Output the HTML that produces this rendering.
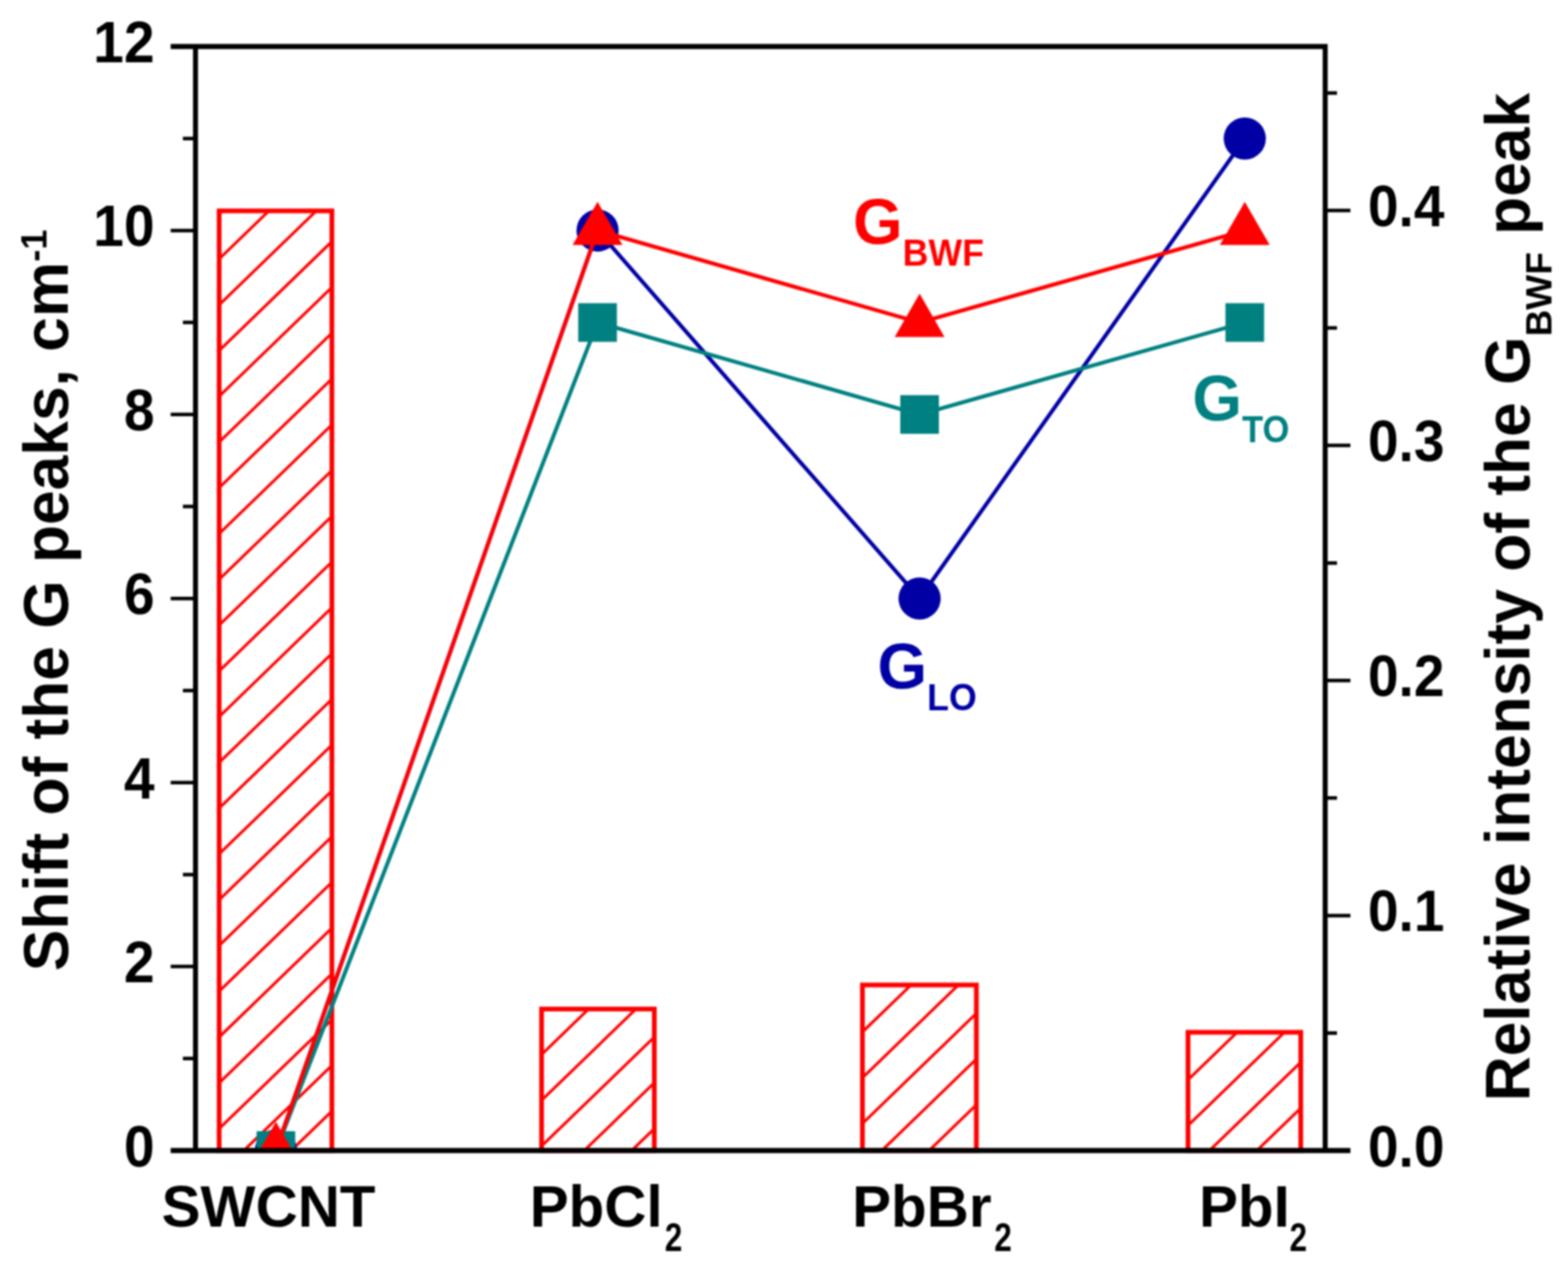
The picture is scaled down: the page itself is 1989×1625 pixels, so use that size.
<!DOCTYPE html>
<html><head><meta charset="utf-8"><title>G peaks shift</title>
<style>
html,body{margin:0;padding:0;background:#fff;}
body{width:1989px;height:1625px;overflow:hidden;}
svg{display:block;filter:blur(1px);}
text{font-family:'Liberation Sans', Arial, sans-serif;font-weight:bold;}
</style></head><body>
<svg width="1989" height="1625" viewBox="0 0 1989 1625">
<rect x="0" y="0" width="1989" height="1625" fill="#fff"/>
<defs>
<clipPath id="cb0"><rect x="278.0" y="267.5" width="143.0" height="1192.0"/></clipPath>
<clipPath id="cb1"><rect x="687.0" y="1280.0" width="143.0" height="179.5"/></clipPath>
<clipPath id="cb2"><rect x="1094.0" y="1249.5" width="144.5" height="210.0"/></clipPath>
<clipPath id="cb3"><rect x="1507.0" y="1309.5" width="143.0" height="150.0"/></clipPath>
<clipPath id="plot"><rect x="248.0" y="0" width="1433.0" height="1461.5"/></clipPath>
</defs>
<g clip-path="url(#cb0)" stroke="#ff0000" stroke-width="3.6" fill="none"><path d="M268.0 280.2L431.0 122.6M268.0 338.2L431.0 180.6M268.0 396.3L431.0 238.7M268.0 454.4L431.0 296.7M268.0 512.4L431.0 354.8M268.0 570.5L431.0 412.9M268.0 628.5L431.0 470.9M268.0 686.6L431.0 529.0M268.0 744.7L431.0 587.0M268.0 802.7L431.0 645.1M268.0 860.8L431.0 703.2M268.0 918.8L431.0 761.2M268.0 976.9L431.0 819.3M268.0 1035.0L431.0 877.3M268.0 1093.0L431.0 935.4M268.0 1151.1L431.0 993.5M268.0 1209.1L431.0 1051.5M268.0 1267.2L431.0 1109.6M268.0 1325.3L431.0 1167.6M268.0 1383.3L431.0 1225.7M268.0 1441.4L431.0 1283.8M268.0 1499.4L431.0 1341.8M268.0 1557.5L431.0 1399.9M268.0 1615.6L431.0 1457.9"/></g>
<rect x="278.0" y="267.5" width="143.0" height="1192.0" fill="none" stroke="#ff0000" stroke-width="6.0"/>
<g clip-path="url(#cb1)" stroke="#ff0000" stroke-width="3.6" fill="none"><path d="M677.0 1289.3L840.0 1131.7M677.0 1347.3L840.0 1189.7M677.0 1405.4L840.0 1247.8M677.0 1463.5L840.0 1305.8M677.0 1521.5L840.0 1363.9M677.0 1579.6L840.0 1422.0"/></g>
<rect x="687.0" y="1280.0" width="143.0" height="179.5" fill="none" stroke="#ff0000" stroke-width="6.0"/>
<g clip-path="url(#cb2)" stroke="#ff0000" stroke-width="3.6" fill="none"><path d="M1084.0 1260.7L1248.5 1101.6M1084.0 1318.8L1248.5 1159.7M1084.0 1376.8L1248.5 1217.8M1084.0 1434.9L1248.5 1275.8M1084.0 1493.0L1248.5 1333.9M1084.0 1551.0L1248.5 1391.9M1084.0 1609.1L1248.5 1450.0"/></g>
<rect x="1094.0" y="1249.5" width="144.5" height="210.0" fill="none" stroke="#ff0000" stroke-width="6.0"/>
<g clip-path="url(#cb3)" stroke="#ff0000" stroke-width="3.6" fill="none"><path d="M1497.0 1321.3L1660.0 1163.7M1497.0 1379.4L1660.0 1221.8M1497.0 1437.5L1660.0 1279.8M1497.0 1495.5L1660.0 1337.9M1497.0 1553.6L1660.0 1396.0M1497.0 1611.6L1660.0 1454.0"/></g>
<rect x="1507.0" y="1309.5" width="143.0" height="150.0" fill="none" stroke="#ff0000" stroke-width="6.0"/>
<g clip-path="url(#plot)">
<polyline points="350.0,1459.5 758.0,292.4 1166.5,759.2 1579.0,175.7" fill="none" stroke="#0000a5" stroke-width="5.0" stroke-linejoin="round"/>
<circle cx="350.0" cy="1459.5" r="26.75" fill="#0000a5"/>
<circle cx="758.0" cy="292.4" r="26.75" fill="#0000a5"/>
<circle cx="1166.5" cy="759.2" r="26.75" fill="#0000a5"/>
<circle cx="1579.0" cy="175.7" r="26.75" fill="#0000a5"/>
<polyline points="350.0,1459.5 758.0,409.1 1166.5,525.8 1579.0,409.1" fill="none" stroke="#008080" stroke-width="5.0" stroke-linejoin="round"/>
<rect x="325.5" y="1435.0" width="49" height="49" fill="#008080"/>
<rect x="733.5" y="384.6" width="49" height="49" fill="#008080"/>
<rect x="1142.0" y="501.3" width="49" height="49" fill="#008080"/>
<rect x="1554.5" y="384.6" width="49" height="49" fill="#008080"/>
<polyline points="350.0,1459.5 758.0,292.4 1166.5,409.1 1579.0,292.4" fill="none" stroke="#ff0000" stroke-width="5.0" stroke-linejoin="round"/>
<polygon points="350.0,1423.0 381.6,1477.8 318.4,1477.8" fill="#ff0000"/>
<polygon points="758.0,255.9 789.6,310.7 726.4,310.7" fill="#ff0000"/>
<polygon points="1166.5,372.6 1198.1,427.4 1134.9,427.4" fill="#ff0000"/>
<polygon points="1579.0,255.9 1610.6,310.7 1547.4,310.7" fill="#ff0000"/>
</g>
<g stroke="#000" stroke-width="6.3" fill="none" stroke-linecap="butt">
<path d="M248.0 55.85V1462.65M1681.0 55.85V1462.65M216.5 59.0H1684.15M216.5 1459.5H1713.0"/>
</g>
<path d="M232.0 1342.8H248.0M216.5 1226.1H248.0M232.0 1109.4H248.0M216.5 992.7H248.0M232.0 876.0H248.0M216.5 759.2H248.0M232.0 642.5H248.0M216.5 525.8H248.0M232.0 409.1H248.0M216.5 292.4H248.0M232.0 175.7H248.0M1681.0 1310.4H1696.0M1681.0 1161.4H1713.0M1681.0 1012.3H1696.0M1681.0 863.2H1713.0M1681.0 714.2H1696.0M1681.0 565.1H1713.0M1681.0 416.1H1696.0M1681.0 267.0H1713.0M1681.0 117.9H1696.0" stroke="#000" stroke-width="4.5" fill="none"/>
<text transform="translate(196,1479.5) scale(0.95,1)" font-size="73.5" text-anchor="end">0</text>
<text transform="translate(196,1246.1) scale(0.95,1)" font-size="73.5" text-anchor="end">2</text>
<text transform="translate(196,1012.7) scale(0.95,1)" font-size="73.5" text-anchor="end">4</text>
<text transform="translate(196,779.2) scale(0.95,1)" font-size="73.5" text-anchor="end">6</text>
<text transform="translate(196,545.8) scale(0.95,1)" font-size="73.5" text-anchor="end">8</text>
<text transform="translate(196,312.4) scale(0.95,1)" font-size="73.5" text-anchor="end">10</text>
<text transform="translate(196,79.0) scale(0.95,1)" font-size="73.5" text-anchor="end">12</text>
<text transform="translate(1735.2,1479.5) scale(0.95,1)" font-size="73.5">0.0</text>
<text transform="translate(1735.2,1181.4) scale(0.95,1)" font-size="73.5">0.1</text>
<text transform="translate(1735.2,883.2) scale(0.95,1)" font-size="73.5">0.2</text>
<text transform="translate(1735.2,585.1) scale(0.95,1)" font-size="73.5">0.3</text>
<text transform="translate(1735.2,287.0) scale(0.95,1)" font-size="73.5">0.4</text>
<text x="205" y="1556" font-size="74">SWCNT</text>
<text x="672" y="1556" font-size="74">PbCl</text>
<text transform="translate(843.3,1587) scale(0.8,1)" font-size="50">2</text>
<text x="1081" y="1556" font-size="74">PbBr</text>
<text transform="translate(1261.3,1587) scale(0.8,1)" font-size="50">2</text>
<text x="1521" y="1556" font-size="74">PbI</text>
<text transform="translate(1635.8,1587) scale(0.8,1)" font-size="50">2</text>
<text transform="translate(85.5,1232) rotate(-90)" font-size="79">Shift of the G peaks, cm<tspan font-size="46" dy="-26.5">-1</tspan></text>
<text transform="translate(1939.5,1397) rotate(-90)" font-size="79">Relative intensity of the G<tspan font-size="47" dy="28">BWF</tspan><tspan dy="-28"> peak</tspan></text>
<text x="1082" y="309" font-size="81" fill="#ff0000">G<tspan font-size="48" dy="27.5" textLength="103" lengthAdjust="spacingAndGlyphs">BWF</tspan></text>
<text x="1512.5" y="533.2" font-size="81" fill="#008080">G<tspan font-size="48" dy="27.5" textLength="60" lengthAdjust="spacingAndGlyphs">TO</tspan></text>
<text x="1113" y="873.3" font-size="81" fill="#0000a5">G<tspan font-size="48" dy="27.5" textLength="63" lengthAdjust="spacingAndGlyphs">LO</tspan></text>
</svg>
</body></html>
